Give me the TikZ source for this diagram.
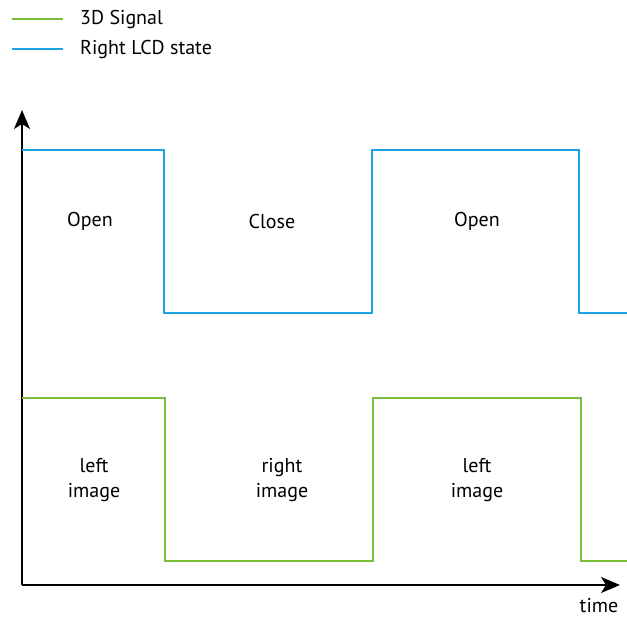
\documentclass[tikz,border=0pt]{standalone}
\usepackage{fontspec}
\setmainfont{PT Sans}
\usetikzlibrary{arrows.meta}
\definecolor{sigGreen}{RGB}{122,190,58}
\definecolor{lcdBlue}{RGB}{28,163,226}
\tikzset{
  wave/.style={line width=1.7pt, line join=miter},
  axis/.style={line width=1.7pt, -{Stealth[length=19pt,width=16pt,inset=5pt]}},
  lbl/.style={font=\fontsize{20}{25}\selectfont, align=center, inner sep=0pt},
}
\begin{document}
\begin{tikzpicture}[x=1pt,y=-1pt]
\useasboundingbox (0,0) rectangle (627,619);
% legend
\draw[wave, sigGreen] (12,19) -- (63,19);
\node[lbl, anchor=west] (legSig) at (80,19) {3D Signal};
\draw[wave, lcdBlue] (12,49) -- (63,49);
\node[lbl, anchor=west] (legLcd) at (80,49) {Right LCD state};
% axes
\coordinate (origin) at (22,585);
\coordinate (ytip) at (22,110);
\coordinate (xtip) at (620,585);
\draw[axis] (origin) -- (ytip);
\draw[axis] (origin) -- (xtip);
\node[lbl] (time) at (599,606) {time};
% right LCD state
\draw[wave, lcdBlue] (22,150) -- (164,150) -- (164,313) -- (372,313) -- (372,150)
  -- (579,150) -- (579,313) -- (627,313);
% 3D signal
\draw[wave, sigGreen] (22,398) -- (165,398) -- (165,561) -- (373,561) -- (373,398)
  -- (581,398) -- (581,561) -- (627,561);
% state labels
\node[lbl] (open1) at (90,221) {Open};
\node[lbl] (close) at (272,221) {Close};
\node[lbl] (open2) at (477,221) {Open};
\node[lbl] (img1) at (94,480) {left\\image};
\node[lbl] (img2) at (282,480) {right\\image};
\node[lbl] (img3) at (477,480) {left\\image};
\end{tikzpicture}
\end{document}
